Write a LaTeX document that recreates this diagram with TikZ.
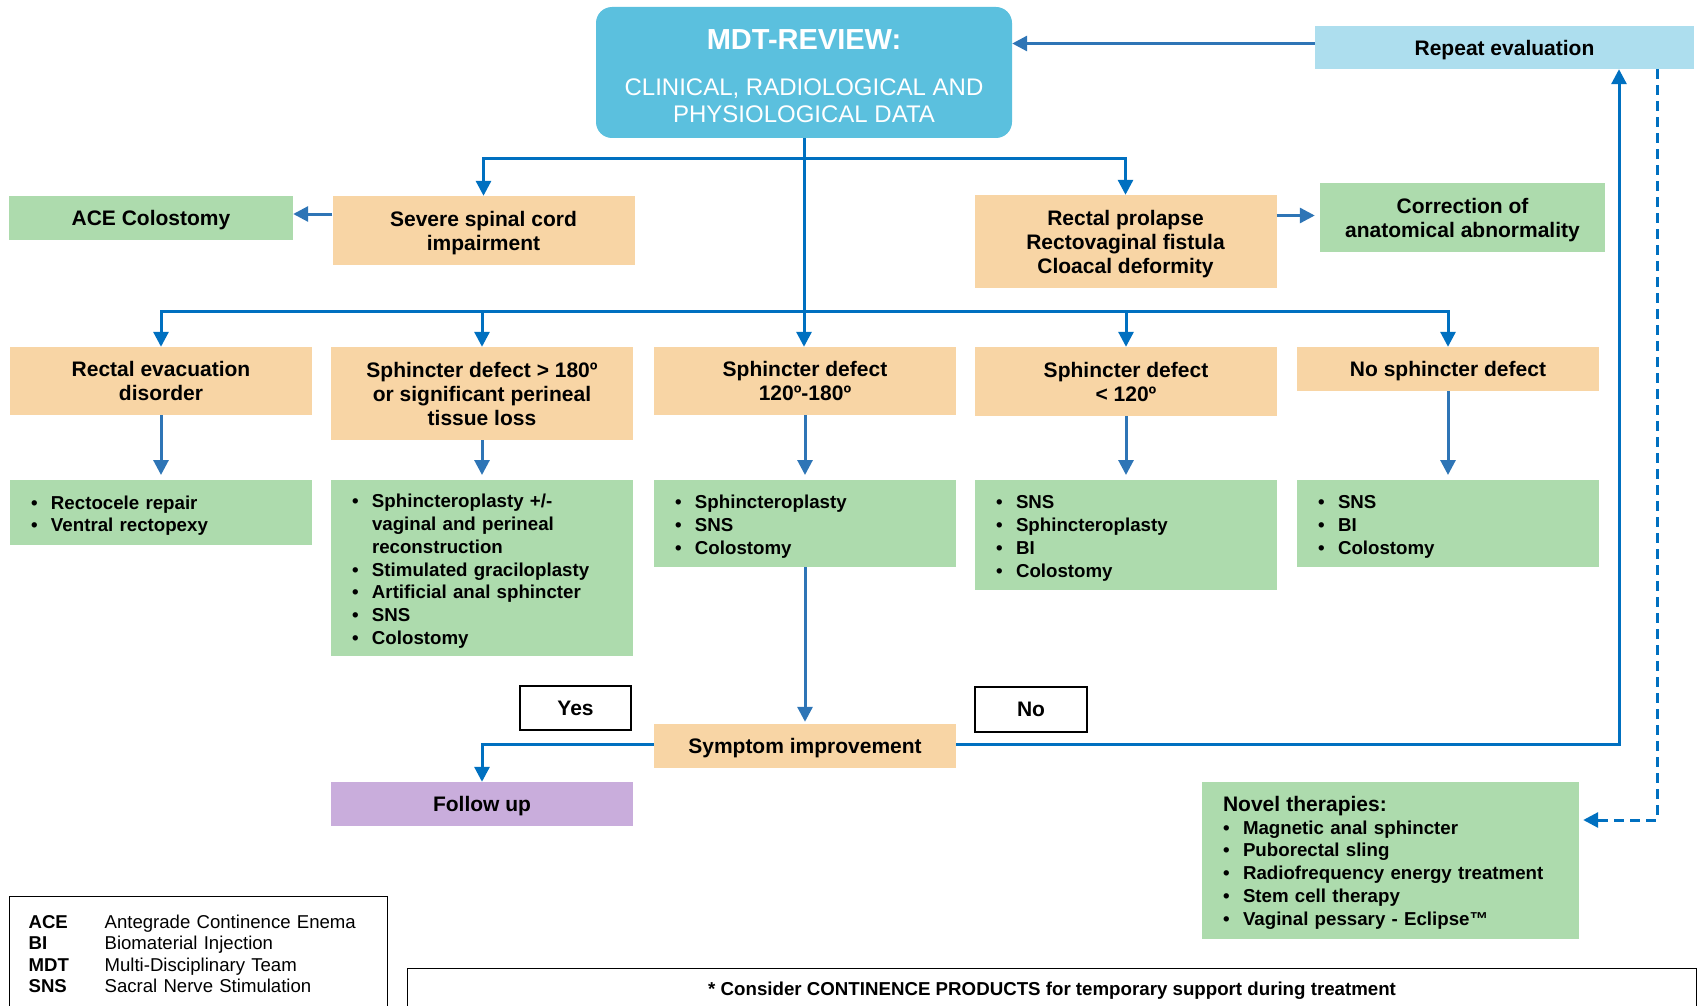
\documentclass[tikz,border=0pt]{standalone}
\usepackage{fontspec}
\setmainfont{Liberation Sans}
\usetikzlibrary{arrows.meta}

\definecolor{mdtblue}{RGB}{91,192,222}
\definecolor{repblue}{RGB}{173,222,238}
\definecolor{orangebox}{RGB}{248,213,165}
\definecolor{greenbox}{RGB}{173,219,173}
\definecolor{purplebox}{RGB}{201,173,220}
\definecolor{linkblue}{RGB}{0,112,192}
\definecolor{steelblue}{RGB}{46,117,182}

\newcommand{\boxfont}{\fontsize{21}{24}\selectfont\bfseries}
\newcommand{\listfont}{\fontsize{18.7}{22.8}\selectfont\bfseries}
\newcommand{\bl}{\makebox[20pt][l]{\textbullet}}
\newcommand{\ctr}[1]{\raisebox{-3pt}[\height][\depth]{\begin{tabular}{@{}c@{}}#1\end{tabular}}}
\newcommand{\treat}[1]{\raisebox{-3.3pt}[\height][\depth]{\begin{tabular}{@{}l@{}l@{}}#1\end{tabular}}}

\begin{document}
\begin{tikzpicture}[x=1pt,y=-1pt,
  link/.style={line width=3pt,draw=linkblue,-{Triangle[length=15pt,width=15pt]}},
  slink/.style={line width=3pt,draw=steelblue,-{Triangle[length=15pt,width=15pt]}},
  probbox/.style={fill=orangebox,font=\boxfont,inner sep=0pt,minimum width=302pt},
  treatbox/.style={fill=greenbox,font=\listfont,align=left,inner xsep=21pt,inner ysep=0pt,text width=260pt},
  tag/.style={draw=black,line width=1.2pt,font=\boxfont,inner sep=0pt}]
\useasboundingbox (0,0) rectangle (1700,1006);

% top
\node[fill=mdtblue,rounded corners=16pt,minimum width=416pt,minimum height=131pt,text=white,align=center,font=\fontsize{24}{27}\selectfont] (mdt) at (804,72.5) {{\fontsize{29}{32}\selectfont\bfseries\rule{0pt}{27.4pt}MDT-REVIEW:}\\[18.3pt]CLINICAL, RADIOLOGICAL AND\\PHYSIOLOGICAL DATA};
\node[fill=repblue,minimum width=379pt,minimum height=43pt,font=\boxfont] (repeat) at (1504.5,47.5) {\ctr{Repeat evaluation}};

% first split
\node[fill=greenbox,minimum width=284pt,minimum height=44pt,font=\boxfont] (ace) at (151,218) {\ctr{ACE Colostomy}};
\node[probbox,minimum height=69pt] (spinal) at (483.5,230.5) {\ctr{Severe spinal cord\\impairment}};
\node[probbox,minimum height=93pt] (prolapse) at (1125.5,241.5) {\ctr{Rectal prolapse\\Rectovaginal fistula\\Cloacal deformity}};
\node[fill=greenbox,minimum width=285pt,minimum height=69pt,font=\boxfont] (correction) at (1462.5,217.5) {\ctr{Correction of\\anatomical abnormality}};

% sphincter rows
\node[probbox,minimum height=68pt] (evac) at (161,381) {\ctr{Rectal evacuation\\disorder}};
\node[probbox,minimum height=93pt] (over) at (482,393.5) {\ctr{Sphincter defect > 180º\\or significant perineal\\tissue loss}};
\node[probbox,minimum height=68pt] (mid) at (805,381) {\ctr{Sphincter defect\\120º-180º}};
\node[probbox,minimum height=69pt] (under) at (1126,381.5) {\ctr{Sphincter defect\\< 120º}};
\node[probbox,minimum height=44pt] (none) at (1448,369) {\ctr{No sphincter defect}};

\node[treatbox,anchor=north,minimum height=65pt] (evacT) at (161,480) {\treat{\bl&Rectocele repair\\\bl&Ventral rectopexy}};
\node[treatbox,anchor=north,minimum height=176pt] (overT) at (482,480) {\treat{\bl&Sphincteroplasty +/-\\&vaginal and perineal\\&reconstruction\\\bl&Stimulated graciloplasty\\\bl&Artificial anal sphincter\\\bl&SNS\\\bl&Colostomy}};
\node[treatbox,anchor=north,minimum height=87pt] (midT) at (805,480) {\treat{\bl&Sphincteroplasty\\\bl&SNS\\\bl&Colostomy}};
\node[treatbox,anchor=north,minimum height=110pt] (underT) at (1126,480) {\treat{\bl&SNS\\\bl&Sphincteroplasty\\\bl&BI\\\bl&Colostomy}};
\node[treatbox,anchor=north,minimum height=87pt] (noneT) at (1448,480) {\treat{\bl&SNS\\\bl&BI\\\bl&Colostomy}};

% outcome
\node[tag,minimum width=111pt,minimum height=44pt] (yes) at (575.5,708) {Yes};
\node[tag,minimum width=112pt,minimum height=45pt] (no) at (1031,709.5) {No};
\node[probbox,minimum height=44pt] (symptom) at (805,746) {\ctr{Symptom improvement}};
\node[fill=purplebox,minimum width=302pt,minimum height=44pt,font=\boxfont] (follow) at (482,804) {\ctr{Follow up}};
\node[treatbox,minimum height=157pt,text width=335pt] (novel) at (1390.5,860.5) {\treat{\multicolumn{2}{@{}l@{}}{\fontsize{21}{22.8}\selectfont Novel therapies:}\\\bl&Magnetic anal sphincter\\\bl&Puborectal sling\\\bl&Radiofrequency energy treatment\\\bl&Stem cell therapy\\\bl&Vaginal pessary - Eclipse™}};

% legend and footer
\node[draw=black,line width=1.2pt,anchor=north west,inner xsep=19pt,inner ysep=17pt,align=left,text width=340pt,font=\fontsize{18.6}{21.3}\selectfont] (legend) at (9,896) {\begin{tabular}{@{}p{76pt}@{}l@{}}\textbf{ACE}&Antegrade Continence Enema\\\textbf{BI}&Biomaterial Injection\\\textbf{MDT}&Multi-Disciplinary Team\\\textbf{SNS}&Sacral Nerve Stimulation\end{tabular}};
\node[draw=black,line width=1.2pt,anchor=north west,minimum width=1289pt,minimum height=44pt,font=\listfont] (products) at (407,968) {* Consider CONTINENCE PRODUCTS for temporary support during treatment};

% connectors
\draw[slink] ([yshift=4pt]repeat.west) -- ([yshift=4pt]repeat.west -| mdt.east);
\draw[link] (mdt.south) -- (mdt.south |- mid.north);
\coordinate (fork) at (804,159);
\draw[link] (fork) -| (spinal.north);
\draw[link] (fork) -| (prolapse.north);
\coordinate (split) at (804,311);
\foreach \b in {evac,over,under,none}
  \draw[link] (split) -| (\b.north);
\draw[slink] ([yshift=4pt]spinal.west |- ace.east) -- ([yshift=4pt]ace.east);
\draw[slink,shorten >=5pt] ([yshift=2pt]prolapse.east |- correction.west) -- ([yshift=2pt]correction.west);
\foreach \a in {evac,over,mid,under,none}
  \draw[slink,shorten >=5pt] (\a.south) -- (\a T.north);
\draw[slink,shorten >=2pt] (midT.south) -- (symptom.north);
\draw[link] ([yshift=2pt]symptom.west) -| (follow.north);
\draw[link] ([yshift=2pt]symptom.east) -| ([xshift=114.5pt]repeat.south);
\draw[link,dash pattern=on 10pt off 6pt,shorten >=4pt] ([xshift=152.5pt]repeat.south) |- ([yshift=40.5pt]novel.east);
\end{tikzpicture}
\end{document}
